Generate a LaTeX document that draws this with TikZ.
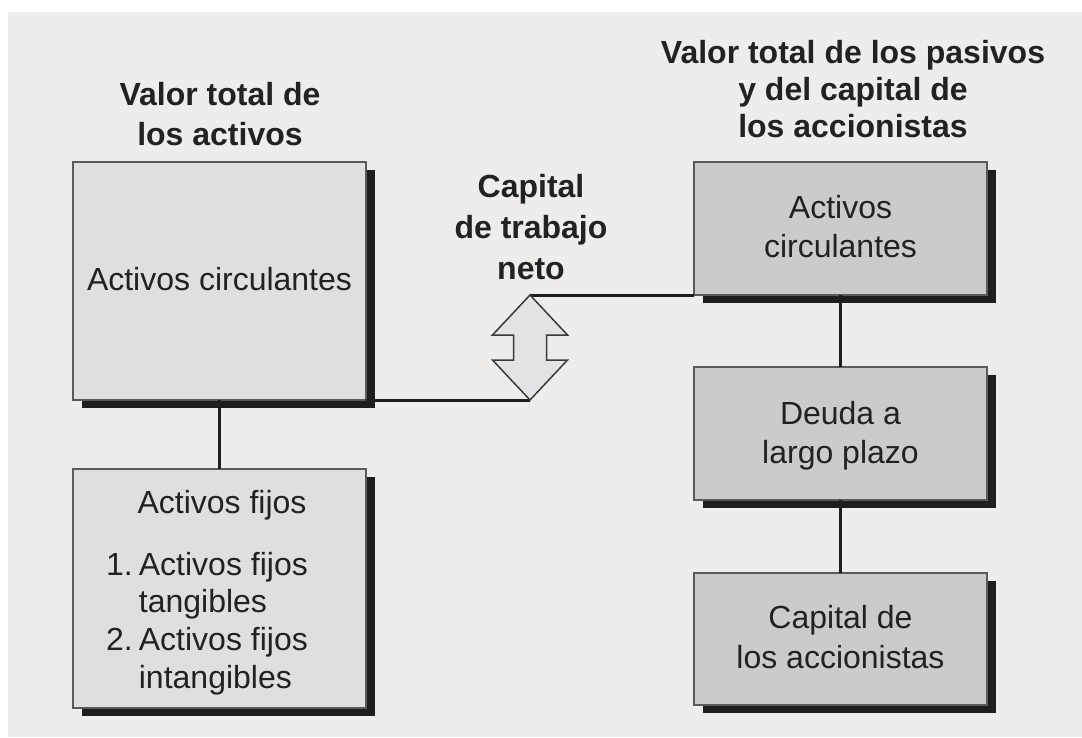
\documentclass[tikz,border=0pt]{standalone}
\usepackage{fontspec}
\setmainfont{Liberation Sans}
\usetikzlibrary{shadows}
\definecolor{bgc}{HTML}{EEEDEB}
\definecolor{lfill}{HTML}{DFDFDF}
\definecolor{rfill}{HTML}{CBCBCB}
\definecolor{edgec}{HTML}{5A5A5A}
\definecolor{shadc}{HTML}{201E1C}
\definecolor{linec}{HTML}{1E1E1E}
\definecolor{arrfill}{HTML}{E3E2E4}
\definecolor{arredge}{HTML}{3A3A3A}
\definecolor{txtc}{HTML}{222222}
\newcommand{\stk}[1]{\begin{tabular}[t]{@{}c@{}}#1\end{tabular}}
\begin{document}
\begin{tikzpicture}[x=1pt,y=-1pt,
  box/.style={draw=edgec, line width=1.5pt, minimum width=293pt, inner sep=0pt, outer sep=0pt,
    drop shadow={shadow xshift=9pt, shadow yshift=-8pt, opacity=1, fill=shadc}},
  lbox/.style={box, fill=lfill},
  rbox/.style={box, fill=rfill},
  ttl/.style={inner sep=0pt, anchor=base, text=txtc, font=\bfseries\fontsize{32}{38}\selectfont},
  btxt/.style={inner sep=0pt, anchor=base, text=txtc, font=\fontsize{32}{39}\selectfont},
  conn/.style={draw=linec, line width=3pt},
  arrsty/.style={draw=arredge, fill=arrfill, line width=1.5pt, line join=miter},
]
\useasboundingbox (0,0) rectangle (1082,737);
\fill[white] (0,0) rectangle (1082,737);
\fill[bgc] (8,12) rectangle (1082,737);

% boxes
\node[lbox, minimum height=238pt] (lc) at (219.5,281) {};
\node[lbox, minimum height=239pt] (lf) at (219.5,588.5) {};
\node[rbox, minimum height=133pt] (rc) at (840.5,228.5) {};
\node[rbox, minimum height=133pt] (rd) at (840.5,433.5) {};
\node[rbox, minimum height=132pt] (rk) at (840.5,639) {};

% connectors
\draw[conn] (lc.south) -- (lf.north);
\draw[conn] (rc.south) -- (rd.north);
\draw[conn] (rd.south) -- (rk.north);

% double arrow
\coordinate (atop) at (530,295);
\coordinate (abot) at (530,400);
\draw[conn] (lc.south east) -- (abot);
\draw[conn] (atop) -- (rc.south west);
\draw[arrsty] (atop) -- ++(37.5,40) -- ++(-21,0) -- ++(0,25) -- ++(21,0) -- (abot)
  -- ++(-37.5,-40) -- ++(21,0) -- ++(0,-25) -- ++(-21,0) -- cycle;

% titles
\node[ttl, font=\bfseries\fontsize{32}{40}\selectfont] (tl) at (220,105) {\stk{Valor total de\\los activos}};
\node[ttl, font=\bfseries\fontsize{32}{37}\selectfont] (tr) at (853,63) {\stk{Valor total de los pasivos\\y del capital de\\los accionistas}};
\node[ttl, font=\bfseries\fontsize{32}{41}\selectfont] (tm) at (531,197) {\stk{Capital\\de trabajo\\neto}};

% box texts
\node[btxt] (lct) at (lc.center |- 0,290) {Activos circulantes};
\node[btxt] (rct) at (rc.center |- 0,218) {\stk{Activos\\circulantes}};
\node[btxt] (rdt) at (rd.center |- 0,424) {\stk{Deuda a\\largo plazo}};
\node[btxt, font=\fontsize{32}{40}\selectfont] (rkt) at (rk.center |- 0,628) {\stk{Capital de\\los accionistas}};
\node[btxt] (lft) at (222,513) {Activos fijos};
\node[btxt, anchor=base west, font=\fontsize{32}{37.7}\selectfont] (lfl) at (106,575)
  {\begin{tabular}[t]{@{}r@{\hspace{6pt}}l@{}}1.&Activos fijos\\&tangibles\\2.&Activos fijos\\&intangibles\end{tabular}};
\end{tikzpicture}
\end{document}
